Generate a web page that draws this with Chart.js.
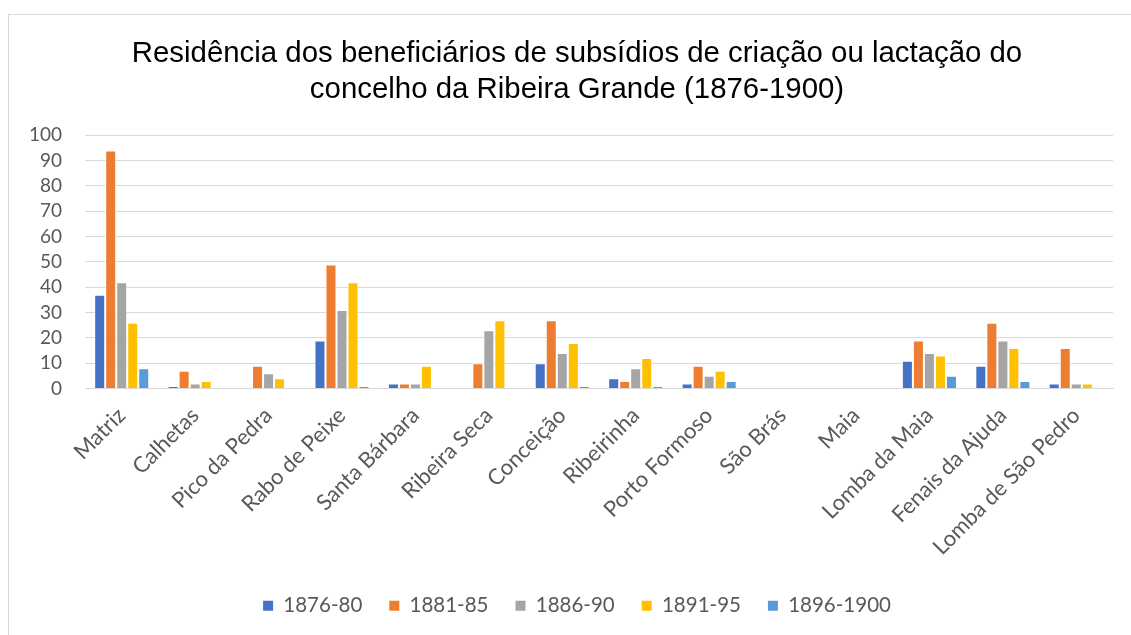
<!DOCTYPE html>
<html>
<head>
<meta charset="utf-8">
<script src="https://cdn.jsdelivr.net/npm/chart.js@4/dist/chart.umd.min.js"></script>
<style>
  html, body { margin: 0; padding: 0; background: #fff; overflow: hidden; }
  #box {
    position: absolute; left: 8px; top: 14px;
    width: 1136px; height: 621px;
    border: 1px solid #d9d9d9;
  }
</style>
</head>
<body>
<div id="box"><canvas id="myChart"></canvas></div>
<script>
const places = ['Matriz', 'Calhetas', 'Pico da Pedra', 'Rabo de Peixe', 'Santa Bárbara', 'Ribeira Seca',
  'Conceição', 'Ribeirinha', 'Porto Formoso', 'São Brás', 'Maia', 'Lomba da Maia',
  'Fenais da Ajuda', 'Lomba de São Pedro'];

const periods = ['1876-80', '1881-85', '1886-90', '1891-95', '1896-1900'];

const v1876 = [37, 1, 0, 19, 2, 0, 10, 4, 2, 0, 0, 11, 9, 2];
const v1881 = [94, 7, 9, 49, 2, 10, 27, 3, 9, 0, 0, 19, 26, 16];
const v1886 = [42, 2, 6, 31, 2, 23, 14, 8, 5, 0, 0, 14, 19, 2];
const v1891 = [26, 3, 4, 42, 9, 27, 18, 12, 7, 0, 0, 13, 16, 2];
const v1896 = [8, 0, 0, 1, 0, 0, 1, 1, 3, 0, 0, 5, 3, 0];

const colors = ['#4472C4', '#ED7D31', '#A5A5A5', '#FFC000', '#5B9BD5'];
const series = [v1876, v1881, v1886, v1891, v1896];

const tickColor = '#595959';

let ctx = document.getElementById('myChart');

const data = {
  labels: places,
  datasets: series.map((vals, i) => ({
    label: periods[i],
    data: vals,
    backgroundColor: colors[i],
    borderColor: '#ffffff',
    borderWidth: 1,
    categoryPercentage: 0.75,
    barPercentage: 1
  }))
};

const config = {
  type: 'bar',
  data: data,
  options: {
    responsive: true,
    maintainAspectRatio: false,
    animation: false,
    layout: { padding: { left: 0, right: 0, top: 0, bottom: 10 } },
    scales: {
      x: {
        grid: { display: false, drawTicks: false },
        border: { color: '#d9d9d9', width: 1 },
        ticks: {
          font: { family: 'Lato', size: 22 }, color: tickColor,
          maxRotation: 45, minRotation: 45, autoSkip: false, padding: 14
        },
        afterFit: (scale) => { scale.height = 180; }
      },
      y: {
        min: 0, max: 100,
        border: { display: false },
        grid: { color: '#d9d9d9', lineWidth: 1, drawTicks: false },
        ticks: { stepSize: 10, autoSkip: false, font: { family: 'Lato', size: 19 }, color: tickColor, padding: 23 },
        afterFit: (scale) => { scale.width = 76; }
      },
      // empty right-hand spacer so the plot ends where the reference's does
      spacer: {
        type: 'linear',
        position: 'right',
        grid: { display: false, drawTicks: false },
        border: { display: false },
        ticks: { display: false },
        afterFit: (scale) => { scale.width = 32; }
      }
    },
    plugins: {
      title: {
        display: true,
        text: ['Residência dos beneficiários de subsídios de criação ou lactação do',
               'concelho da Ribeira Grande (1876-1900)'],
        color: '#000000',
        font: { family: 'Liberation Sans', size: 29.4, weight: 'normal', lineHeight: 1.23 },
        padding: { top: 21, bottom: 27 }
      },
      legend: {
        position: 'bottom',
        labels: {
          font: { family: 'Lato', size: 20.5 }, color: tickColor,
          boxWidth: 10, boxHeight: 10, padding: 27,
          generateLabels: (chart) =>
            Chart.defaults.plugins.legend.labels.generateLabels(chart).map(l => ({ ...l, lineWidth: 0 }))
        }
      },
      tooltip: { enabled: false }
    }
  }
};

let myChart = new Chart(ctx, config);
</script>
</body>
</html>
